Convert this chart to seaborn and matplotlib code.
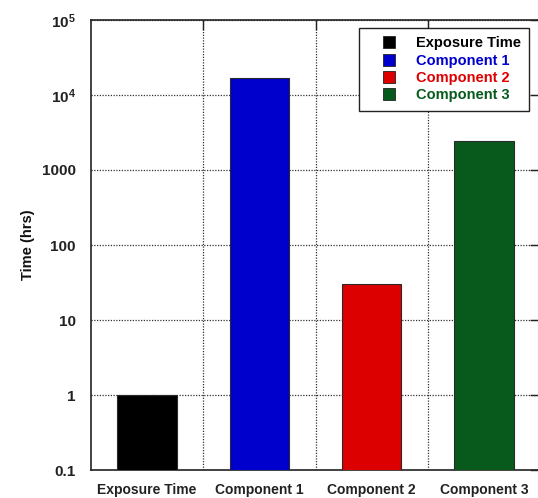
import matplotlib
matplotlib.use("Agg")
import matplotlib.pyplot as plt
from matplotlib.lines import Line2D
from matplotlib.ticker import FixedLocator, FixedFormatter, NullLocator
import seaborn as sns
import pandas as pd

categories = ["Exposure Time", "Component 1", "Component 2", "Component 3"]
hours = [1.0, 17000.0, 30.0, 2400.0]
colors = ["#000000", "#0000CC", "#DD0000", "#075A1C"]
y_ticks = [0.1, 1, 10, 100, 1000, 1e4, 1e5]
y_tick_labels = ["0.1", "1", "10", "100", "1000", r"$\mathbf{10^{4}}$", r"$\mathbf{10^{5}}$"]

sns.set_theme(style="white")
plt.rcParams["font.family"] = ["Liberation Sans", "DejaVu Sans"]
plt.rcParams["font.weight"] = "bold"
plt.rcParams["mathtext.fontset"] = "custom"
plt.rcParams["mathtext.rm"] = "Liberation Sans"
plt.rcParams["mathtext.bf"] = "Liberation Sans:bold"

df = pd.DataFrame({"category": categories, "hours": hours})

fig = plt.figure(figsize=(5.38, 4.98), dpi=100)
ax = fig.add_axes([0.169, 0.056, 0.835, 0.904])

sns.barplot(data=df, x="category", y="hours", hue="category",
            palette=colors, saturation=1, legend=False, width=0.53, ax=ax,
            edgecolor="#2a2a2a", linewidth=0.8, zorder=3)
ax.set_yscale("log")

ax.set_xlim(-0.5, 3.5)
ax.set_ylim(0.1, 1e5)

# y axis: decade ticks with dotted grid
ax.yaxis.set_major_locator(FixedLocator(y_ticks))
ax.yaxis.set_major_formatter(FixedFormatter(y_tick_labels))
ax.yaxis.set_minor_locator(NullLocator())

# x axis: grid/ticks on category boundaries, labels at category centres
ax.xaxis.set_major_locator(FixedLocator([0.5, 1.5, 2.5]))
ax.xaxis.set_major_formatter(FixedFormatter(["", "", ""]))
ax.xaxis.set_minor_locator(FixedLocator([0, 1, 2, 3]))
ax.xaxis.set_minor_formatter(FixedFormatter(categories))

ax.tick_params(axis="both", which="major", direction="in", length=7, width=1,
               color="#222222", top=True, right=True)
ax.tick_params(axis="x", which="minor", length=0, pad=9, labelsize=10,
               labelcolor="#222222")
ax.tick_params(axis="y", which="major", pad=11, labelsize=11, labelcolor="#222222")
for lab in ax.get_xticklabels(minor=True) + ax.get_yticklabels():
    lab.set_fontweight("bold")

ax.grid(True, which="major", axis="both", linestyle=(0, (1, 1.2)),
        color="#333333", linewidth=0.9, zorder=0)
ax.set_axisbelow(True)

for sp in ax.spines.values():
    sp.set_color("#222222")
    sp.set_linewidth(1.2)

ax.set_xlabel("")
ax.set_ylabel("Time (hrs)", fontsize=10.5, fontweight="bold", color="#111111")
ax.yaxis.set_label_coords(-0.124, 0.5)

handles = [Line2D([0], [0], marker="s", linestyle="none", markersize=9,
                  markerfacecolor=c, markeredgecolor="#222222", markeredgewidth=0.6)
           for c in colors]
leg = ax.legend(handles, categories, loc="upper right", bbox_to_anchor=(0.976, 0.983),
                frameon=True, fancybox=False, framealpha=1, edgecolor="#222222",
                borderpad=0.6, labelspacing=0.23, handletextpad=0.3,
                borderaxespad=0, handlelength=3.0, prop={"size": 10.5, "weight": "bold"})
leg.get_frame().set_linewidth(1.0)
for txt, c in zip(leg.get_texts(), colors):
    txt.set_color(c)

fig.savefig("out.png", dpi=100)
